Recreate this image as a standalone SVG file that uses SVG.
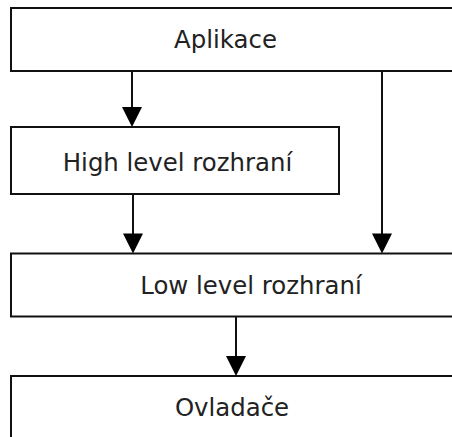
<svg xmlns="http://www.w3.org/2000/svg" width="452" height="437" viewBox="0 0 452 437">
<style>
.box{fill:#fff;stroke:#111;stroke-width:2}
.lbl{font-family:"DejaVu Sans",sans-serif;font-size:24.4px;fill:#222;text-anchor:middle}
.con{stroke:#111;stroke-width:2;fill:none}
.head{fill:#000}
</style>
<rect width="452" height="437" fill="#fff"/>
<g id="aplikace">
<rect class="box" x="11" y="8" width="460" height="63"/>
<text class="lbl" x="225.5" y="47.5">Aplikace</text>
</g>
<g id="high">
<rect class="box" x="11" y="127" width="328" height="67"/>
<text class="lbl" x="177.5" y="171">High level rozhraní</text>
</g>
<g id="low">
<rect class="box" x="11" y="253.5" width="460" height="63"/>
<text class="lbl" x="251" y="293.5">Low level rozhraní</text>
</g>
<g id="ovladace">
<rect class="box" x="11" y="376" width="460" height="80"/>
<text class="lbl" x="232" y="416">Ovladače</text>
</g>
<g id="connectors">
<path class="con" d="M132 71V110"/>
<polygon class="head" points="122,107 142,107 132,127"/>
<path class="con" d="M133 194V236"/>
<polygon class="head" points="123,233.5 143,233.5 133,253.5"/>
<path class="con" d="M382 71V236"/>
<polygon class="head" points="372,233.5 392,233.5 382,253.5"/>
<path class="con" d="M236 317V359"/>
<polygon class="head" points="226,356 246,356 236,376"/>
</g>
</svg>
